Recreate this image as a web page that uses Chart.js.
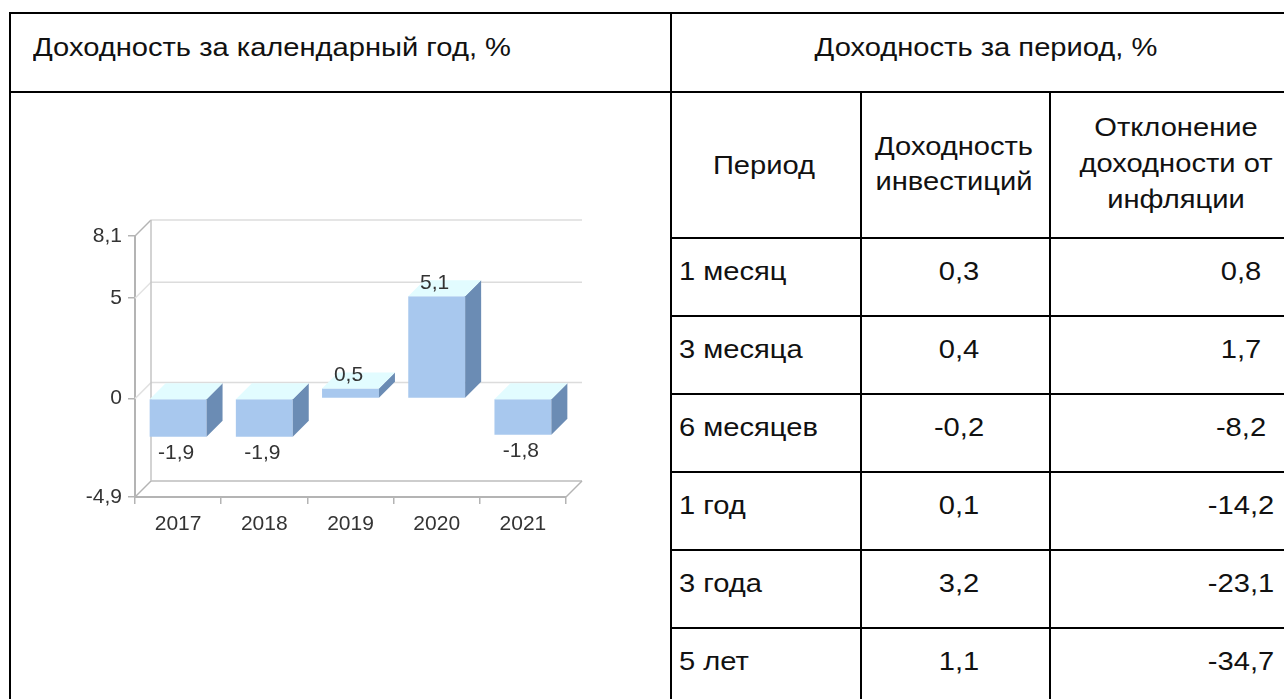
<!DOCTYPE html>
<html lang="ru">
<head>
<meta charset="utf-8">
<script src="https://cdn.jsdelivr.net/npm/chart.js@4.4.1/dist/chart.umd.min.js"></script>
<style>
    html, body { margin: 0; padding: 0; background: #fff; overflow: hidden; }
    body { width: 1284px; height: 699px; position: relative; font-family: "Liberation Sans", Arial, sans-serif; color: #111; }
    .hl, .vl { position: absolute; background: #000; }
    .hl { height: 2px; }
    .vl { width: 2px; }
    .t { position: absolute; font-size: 26px; line-height: 30px; height: 30px; white-space: nowrap; transform-origin: left center; transform: scaleX(1.12); }
    .c { transform-origin: center center; transform: translateX(-50%) scaleX(1.12); text-align: center; }
    .multi { position: absolute; font-size: 26px; text-align: center; white-space: nowrap; transform: translateX(-50%) scaleX(1.12); }
    #chartBox { position: absolute; left: 60px; top: 190px; }
</style>
</head>
<body>

<!-- рамки таблицы -->
<div class="hl" style="left:9px; top:12px; width:1275px"></div>
<div class="hl" style="left:9px; top:91px; width:1275px"></div>
<div class="vl" style="left:9px; top:12px; height:687px"></div>
<div class="vl" style="left:670px; top:12px; height:687px"></div>
<div class="vl" style="left:860px; top:91px; height:608px"></div>
<div class="vl" style="left:1049px; top:91px; height:608px"></div>
<div id="rowLines"></div>

<div class="t" style="left:33px; top:32px">Доходность за календарный год, %</div>
<div class="t c" style="left:986px; top:32px">Доходность за период, %</div>

<div class="t c" style="left:764px; top:150px">Период</div>
<div class="multi" style="left:954px; top:129px; line-height:35px">Доходность<br>инвестиций</div>
<div class="multi" style="left:1176px; top:109px; line-height:36px">Отклонение<br>доходности от<br>инфляции</div>

<div id="rows"></div>

<div id="chartBox"><canvas id="yearChart" width="570" height="370"></canvas></div>

<script>
// === данные ===
const years = ['2017', '2018', '2019', '2020', '2021'];
const yearReturns = [-1.9, -1.9, 0.5, 5.1, -1.8];
const yTicks = [-4.9, 0, 5, 8.1];

const periods = ['1 месяц', '3 месяца', '6 месяцев', '1 год', '3 года', '5 лет'];
const investReturns = [0.3, 0.4, -0.2, 0.1, 3.2, 1.1];
const inflationGap = [0.8, 1.7, -8.2, -14.2, -23.1, -34.7];

const fmt = v => String(v).replace('.', ',');

// === таблица доходности за период ===
const rowsEl = document.getElementById('rows');
const linesEl = document.getElementById('rowLines');
periods.forEach((p, i) => {
    const top = 237 + i * 78;
    linesEl.insertAdjacentHTML('beforeend',
        `<div class="hl" style="left:670px; top:${top}px; width:614px"></div>`);
    rowsEl.insertAdjacentHTML('beforeend',
        `<div class="t" style="left:679px; top:${top + 19}px">${p}</div>` +
        `<div class="t c" style="left:959px; top:${top + 19}px">${fmt(investReturns[i])}</div>` +
        `<div class="t c" style="left:1241px; top:${top + 19}px">${fmt(inflationGap[i])}</div>`);
});

// === псевдо-3D для столбцов ===
const DX = 16, DY = -16;
const chartFont = { family: '"Liberation Sans", Arial, sans-serif', size: 21 };

function line(ctx, x1, y1, x2, y2) {
    ctx.beginPath();
    ctx.moveTo(x1, y1);
    ctx.lineTo(x2, y2);
    ctx.stroke();
}

const box3d = {
    id: 'box3d',
    beforeDatasetsDraw(chart) {
        const { ctx, chartArea: a, scales: { y } } = chart;
        ctx.save();
        ctx.lineWidth = 1.5;
        yTicks.forEach((v, i) => {
            const py = y.getPixelForValue(v);
            ctx.strokeStyle = i === 0 ? '#bdbdbd' : '#dcdcdc';
            line(ctx, a.left + DX, py + DY, a.right + DX, py + DY);
            ctx.strokeStyle = (i === 0 || i === yTicks.length - 1) ? '#b4b4b4' : '#e2e2e2';
            line(ctx, a.left, py, a.left + DX, py + DY);
        });
        ctx.strokeStyle = '#c4c4c4';
        line(ctx, a.left + DX, a.top + DY, a.left + DX, a.bottom + DY);
        ctx.strokeStyle = '#b4b4b4';
        line(ctx, a.right, a.bottom, a.right + DX, a.bottom + DY);
        ctx.restore();
    },
    afterDatasetsDraw(chart) {
        const { ctx } = chart;
        const meta = chart.getDatasetMeta(0);
        ctx.save();
        meta.data.forEach((bar, i) => {
            const w = bar.width;
            const l = bar.x - w / 2, r = bar.x + w / 2;
            const top = Math.min(bar.y, bar.base), bottom = Math.max(bar.y, bar.base);
            // боковая грань
            ctx.fillStyle = '#6b8cb4';
            ctx.beginPath();
            ctx.moveTo(r, top);
            ctx.lineTo(r + DX, top + DY);
            ctx.lineTo(r + DX, bottom + DY);
            ctx.lineTo(r, bottom);
            ctx.closePath();
            ctx.fill();
            // верхняя грань
            ctx.fillStyle = '#e2fcff';
            ctx.beginPath();
            ctx.moveTo(l, top);
            ctx.lineTo(l + DX, top + DY);
            ctx.lineTo(r + DX, top + DY);
            ctx.lineTo(r, top);
            ctx.closePath();
            ctx.fill();
            // подпись
            const v = yearReturns[i];
            ctx.fillStyle = '#333';
            ctx.font = `${chartFont.size}px ${chartFont.family}`;
            ctx.textAlign = 'center';
            ctx.textBaseline = 'middle';
            ctx.fillText(fmt(v), bar.x - 2, v >= 0 ? top - 13 : bottom + 16);
        });
        ctx.restore();
    }
};

new Chart(document.getElementById('yearChart'), {
    type: 'bar',
    data: {
        labels: years,
        datasets: [{
            data: yearReturns,
            backgroundColor: '#a8c8ee',
            borderWidth: 0,
            barPercentage: 0.66,
            categoryPercentage: 1
        }]
    },
    options: {
        responsive: false,
        animation: false,
        events: [],
        layout: { padding: { top: 46, right: 64, left: 0, bottom: 0 } },
        plugins: { legend: { display: false }, tooltip: { enabled: false } },
        scales: {
            x: {
                grid: { drawOnChartArea: false, color: '#b4b4b4', lineWidth: 1.5, tickLength: 7, offset: true },
                border: { color: '#b4b4b4', width: 2 },
                ticks: { font: chartFont, color: '#333', padding: 8, maxRotation: 0 },
                afterFit(s) { s.height = 63; }
            },
            y: {
                min: -4.9,
                max: 8.1,
                afterBuildTicks(s) { s.ticks = yTicks.map(v => ({ value: v })); },
                grid: { drawOnChartArea: false, color: '#b4b4b4', lineWidth: 1.5, tickLength: 7 },
                border: { color: '#b4b4b4', width: 2 },
                ticks: { font: chartFont, color: '#333', padding: 6, callback: v => fmt(v) },
                afterFit(s) { s.width = 75; }
            }
        }
    },
    plugins: [box3d]
});
</script>
</body>
</html>
